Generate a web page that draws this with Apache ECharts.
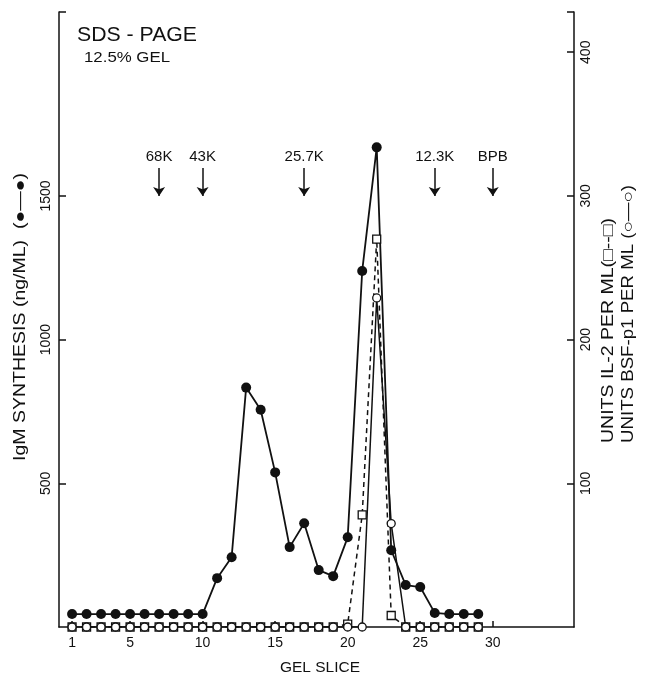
<!DOCTYPE html>
<html>
<head>
<meta charset="utf-8">
<script src="https://cdn.jsdelivr.net/npm/echarts@6/dist/echarts.min.js"></script>
<style>
  html, body { margin: 0; background: #fff; }
  #main { width: 647px; height: 677px; }
</style>
</head>
<body>
<div id="main"></div>
<script>
// gel slice numbers and the three assays
var slices = [1, 2, 3, 4, 5, 6, 7, 8, 9, 10, 11, 12, 13, 14, 15, 16, 17, 18, 19, 20, 21, 22, 23, 24, 25, 26, 27, 28, 29];
var igm = [45, 45, 45, 45, 45, 45, 45, 45, 45, 45, 170, 243, 833, 756, 538, 278, 361, 198, 177, 312, 1239, 1669, 267, 146, 139, 49, 45, 45, 45];
var il2 = [0, 0, 0, 0, 0, 0, 0, 0, 0, 0, 0, 0, 0, 0, 0, 0, 0, 0, 0, 2, 78, 270, 8, 0, 0, 0, 0, 0, 0];
var bsf = [0, 0, 0, 0, 0, 0, 0, 0, 0, 0, 0, 0, 0, 0, 0, 0, 0, 0, 0, 0, 0, 229, 72, 0, 0, 0, 0, 0, 0];

// molecular weight markers
var bandNames = ['68K', '43K', '25.7K', '12.3K', 'BPB'];
var bandSlices = [7, 10, 17, 26, 30];

var xTicks = [1, 5, 10, 15, 20, 25, 30];
var leftTicks = [500, 1000, 1500];
var rightTicks = [100, 200, 300, 400];

var FONT = "'Liberation Sans', Arial, sans-serif";
var INK = '#111';

var ctx = document.createElement('canvas').getContext('2d');
function stretch(text, size, len) {
  ctx.font = size + 'px ' + FONT;
  return len / ctx.measureText(text).width;
}
function label(text, size, x, y, len, rot) {
  return {
    type: 'text', x: x, y: y, rotation: rot || 0,
    scaleX: stretch(text, size, len),
    silent: true,
    style: {
      text: text, x: 0, y: 0, fill: INK,
      font: size + 'px ' + FONT,
      align: 'left', verticalAlign: 'middle',
      textAlign: 'left', textVerticalAlign: 'middle'
    }
  };
}
function pairs(ys) {
  return slices.map(function (s, i) { return [s, ys[i]]; });
}
function plain(v) {
  return String(v);
}

var myChart = echarts.init(document.getElementById('main'));

var axisLine = { show: true, lineStyle: { color: INK, width: 1.5 } };
var tickStyle = { color: INK, width: 1.5 };

var option = {
  animation: false,
  backgroundColor: '#fff',
  grid: { left: 59, right: 73, top: 12, bottom: 50 },
  xAxis: {
    type: 'value', min: 0.1, max: 35.6,
    axisLine: axisLine,
    axisTick: { show: true, inside: true, length: 6, customValues: xTicks, lineStyle: tickStyle },
    axisLabel: { customValues: xTicks, formatter: plain, color: INK, fontSize: 14, fontFamily: FONT, margin: 9 },
    splitLine: { show: false }
  },
  yAxis: [
    {
      type: 'value', min: 0, max: 2140, position: 'left',
      axisLine: axisLine,
      axisTick: { show: true, inside: true, length: 7, customValues: leftTicks.concat([2140]), lineStyle: tickStyle },
      axisLabel: { customValues: leftTicks, formatter: plain, rotate: 90, color: INK, fontSize: 14, fontFamily: FONT, margin: 6 },
      splitLine: { show: false }
    },
    {
      type: 'value', min: 0, max: 428, position: 'right',
      axisLine: axisLine,
      axisTick: { show: true, inside: true, length: 7, customValues: rightTicks.concat([428]), lineStyle: tickStyle },
      axisLabel: { customValues: rightTicks, formatter: plain, rotate: 90, color: INK, fontSize: 14, fontFamily: FONT, margin: 5 },
      splitLine: { show: false }
    }
  ],
  series: [
    {
      name: 'IL-2', type: 'line', yAxisIndex: 1,
      data: pairs(il2),
      symbol: 'rect', symbolSize: 8,
      lineStyle: { color: INK, width: 1.5, type: [5, 4] },
      itemStyle: { color: '#fff', borderColor: INK, borderWidth: 1.3 },
      emphasis: { disabled: true }
    },
    {
      name: 'BSF-p1', type: 'line', yAxisIndex: 1,
      data: pairs(bsf),
      symbol: 'circle', symbolSize: 8,
      lineStyle: { color: INK, width: 1.5 },
      itemStyle: { color: '#fff', borderColor: INK, borderWidth: 1.3 },
      emphasis: { disabled: true }
    },
    {
      name: 'IgM', type: 'line', yAxisIndex: 0,
      data: pairs(igm),
      symbol: 'circle', symbolSize: 10,
      lineStyle: { color: INK, width: 1.8 },
      itemStyle: { color: INK },
      emphasis: { disabled: true },
      markLine: {
        silent: true,
        symbol: ['none', 'arrow'], symbolSize: 9,
        lineStyle: { color: INK, width: 1.5, type: 'solid' },
        label: { show: true, position: 'start', formatter: '{b}', color: INK, fontSize: 15, fontFamily: FONT, distance: 4 },
        data: bandSlices.map(function (s, i) {
          return [{ name: bandNames[i], coord: [s, 1597] }, { coord: [s, 1500] }];
        })
      }
    }
  ],
  graphic: [
    label('SDS - PAGE', 21, 77, 35, 120),
    label('12.5% GEL', 15, 84, 58, 86),
    label('GEL SLICE', 15, 280, 668, 80),
    label('IgM SYNTHESIS (ng/ML)  (\u25CF\u2014\u25CF)', 16, 21, 461, 288, Math.PI / 2),
    label('UNITS IL-2 PER ML(\u25A1--\u25A1)', 16, 609, 443, 225, Math.PI / 2),
    label('UNITS BSF-p1 PER ML (\u25CB\u2014\u25CB)', 16, 629, 443, 258, Math.PI / 2)
  ]
};

myChart.setOption(option);
</script>
</body>
</html>
